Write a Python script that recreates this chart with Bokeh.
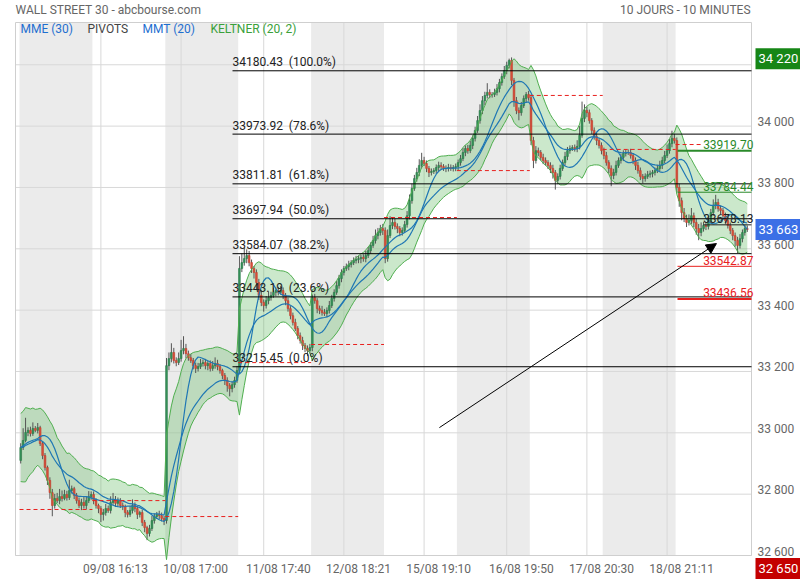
import numpy as np
from bokeh.plotting import figure
from bokeh.models import Range1d, Label, Arrow, NormalHead
from bokeh.embed import file_html
from bokeh.resources import INLINE

# ---------------- data (10-minute candles, 30 per session) ----------------
first_open = 32910
close_d0 = [32952, 32975, 33001, 33008, 32998, 33014, 33008, 33017, 32965, 32926, 32887, 32845, 32805, 32763, 32786,
            32779, 32792, 32786, 32799, 32789, 32812, 32818, 32796, 32779, 32763, 32773, 32763, 32779, 32792, 32799]
close_d1 = [32779, 32763, 32753, 32734, 32740, 32753, 32747, 32773, 32779, 32770, 32779, 32763, 32760, 32740, 32734,
            32747, 32763, 32753, 32734, 32740, 32708, 32691, 32672, 32688, 32714, 32727, 32734, 32730, 32721, 32714]
close_d2 = [33219, 33242, 33262, 33236, 33229, 33242, 33268, 33275, 33258, 33245, 33236, 33219, 33210, 33216, 33226,
            33229, 33219, 33226, 33210, 33219, 33226, 33216, 33203, 33187, 33171, 33154, 33144, 33157, 33171, 33203]
close_d3 = [33536, 33555, 33568, 33578, 33555, 33536, 33523, 33490, 33448, 33425, 33415, 33431, 33441, 33448, 33458,
            33464, 33458, 33464, 33448, 33431, 33405, 33382, 33360, 33340, 33317, 33301, 33285, 33275, 33268, 33278]
close_d4 = [33441, 33431, 33405, 33399, 33392, 33389, 33399, 33415, 33438, 33458, 33480, 33503, 33523, 33536, 33542,
            33549, 33555, 33562, 33565, 33568, 33572, 33568, 33578, 33594, 33611, 33627, 33643, 33653, 33666, 33660]
close_d5 = [33568, 33643, 33676, 33686, 33673, 33666, 33653, 33660, 33679, 33708, 33757, 33797, 33829, 33849, 33872,
            33888, 33878, 33862, 33849, 33852, 33855, 33865, 33872, 33868, 33862, 33862, 33865, 33862, 33865, 33868]
close_d6 = [33881, 33894, 33914, 33927, 33920, 33937, 33960, 33986, 34018, 34051, 34083, 34100, 34110, 34103, 34103,
            34110, 34122, 34142, 34162, 34181, 34198, 34214, 34149, 34083, 34051, 34044, 34067, 34090, 34103, 34093]
close_d7 = [33953, 33888, 33920, 33914, 33898, 33888, 33881, 33872, 33862, 33849, 33823, 33836, 33862, 33881, 33901,
            33920, 33927, 33930, 33927, 33934, 33970, 34025, 34051, 34044, 34018, 33986, 33966, 33953, 33937, 33920]
close_d8 = [33904, 33881, 33862, 33839, 33849, 33872, 33888, 33898, 33911, 33914, 33914, 33904, 33888, 33872, 33855,
            33836, 33829, 33836, 33842, 33845, 33849, 33855, 33862, 33872, 33888, 33904, 33920, 33943, 33960, 33953]
close_d9 = [33800, 33757, 33718, 33699, 33686, 33692, 33708, 33686, 33666, 33653, 33666, 33676, 33673, 33692, 33718,
            33741, 33751, 33731, 33725, 33708, 33692, 33676, 33660, 33643, 33627, 33611, 33633, 33653, 33666, 33663]

wick_up_d = [
    [14, 40, 48, 10, 12, 20, 8, 15, 6, 5, 8, 6, 10, 12, 15, 18, 25, 20, 15, 12, 35, 10, 6, 8, 10, 12, 20, 15, 18, 10],
    [10, 8, 6, 8, 12, 15, 10, 20, 25, 15, 10, 8, 10, 6, 8, 15, 20, 10, 8, 6, 10, 8, 6, 12, 15, 10, 8, 12, 10, 8],
    [25, 20, 30, 15, 10, 20, 35, 40, 15, 10, 12, 8, 10, 12, 15, 10, 12, 8, 10, 15, 20, 12, 8, 6, 8, 10, 8, 10, 12, 15],
    [40, 30, 35, 20, 15, 10, 8, 10, 12, 15, 10, 15, 20, 12, 15, 10, 12, 15, 10, 8, 10, 8, 10, 12, 8, 10, 12, 8, 10, 12],
    [10, 12, 8, 10, 15, 12, 10, 15, 12, 10, 15, 12, 10, 8, 10, 12, 8, 10, 12, 10, 8, 10, 15, 12, 10, 15, 20, 15, 12, 15],
    [10, 20, 30, 15, 12, 10, 8, 10, 12, 15, 20, 15, 12, 15, 20, 25, 12, 10, 8, 10, 8, 10, 12, 10, 8, 10, 12, 10, 8, 10],
    [10, 12, 15, 10, 12, 15, 10, 12, 15, 20, 15, 12, 30, 10, 8, 12, 15, 12, 10, 15, 12, 6, 10, 8, 12, 10, 12, 10, 8, 12],
    [10, 12, 15, 10, 8, 12, 10, 8, 10, 12, 8, 10, 12, 10, 15, 12, 10, 8, 10, 20, 30, 55, 20, 12, 10, 8, 10, 12, 8, 10],
    [10, 12, 8, 10, 12, 15, 10, 12, 10, 8, 10, 12, 8, 10, 12, 10, 8, 10, 12, 10, 8, 10, 12, 15, 12, 15, 20, 15, 25, 15],
    [10, 12, 10, 15, 12, 20, 25, 10, 12, 15, 20, 12, 10, 15, 12, 20, 25, 12, 10, 8, 10, 12, 10, 8, 10, 12, 15, 10, 12, 10],
]
wick_dn_d = [
    [10, 8, 6, 12, 10, 8, 6, 10, 8, 12, 10, 15, 20, 35, 10, 8, 12, 10, 6, 10, 8, 10, 12, 10, 8, 15, 10, 12, 8, 10],
    [12, 10, 15, 25, 20, 10, 8, 10, 8, 12, 10, 8, 12, 15, 10, 8, 10, 12, 15, 10, 12, 15, 22, 10, 8, 10, 8, 12, 10, 15],
    [10, 15, 12, 10, 12, 8, 10, 12, 15, 10, 8, 12, 15, 10, 8, 10, 12, 15, 10, 8, 10, 12, 10, 12, 15, 20, 25, 12, 10, 8],
    [10, 12, 10, 15, 12, 15, 20, 25, 15, 12, 20, 10, 12, 10, 8, 12, 10, 8, 12, 15, 10, 12, 10, 8, 12, 10, 15, 12, 18, 10],
    [12, 10, 15, 12, 10, 8, 12, 10, 8, 10, 8, 10, 12, 10, 8, 12, 10, 8, 10, 12, 15, 10, 12, 8, 10, 8, 10, 12, 10, 15],
    [15, 10, 8, 12, 10, 15, 12, 10, 8, 10, 12, 10, 8, 10, 12, 10, 8, 12, 15, 10, 8, 10, 12, 10, 8, 12, 10, 8, 10, 12],
    [12, 10, 8, 12, 10, 8, 12, 10, 8, 10, 12, 15, 10, 12, 10, 8, 10, 12, 10, 8, 12, 10, 15, 20, 12, 25, 10, 8, 12, 10],
    [15, 25, 10, 12, 10, 12, 10, 12, 15, 20, 30, 12, 10, 8, 10, 12, 10, 8, 10, 12, 10, 8, 12, 15, 10, 12, 10, 15, 10, 12],
    [12, 10, 15, 35, 12, 10, 8, 10, 12, 10, 8, 10, 12, 15, 10, 12, 15, 10, 8, 10, 12, 10, 8, 10, 12, 10, 8, 10, 12, 10],
    [15, 20, 25, 12, 15, 10, 12, 15, 20, 25, 12, 10, 12, 10, 8, 10, 12, 10, 12, 10, 12, 10, 12, 15, 20, 25, 10, 12, 10, 8],
]

bars_per_day = 30
time_labels = ["09/08 16:13", "10/08 17:00", "11/08 17:40", "12/08 18:21",
               "15/08 19:10", "16/08 19:50", "17/08 20:30", "18/08 21:11"]
grid_bar = [33, 66, 100, 133, 166, 200, 233, 266]
label_bar = [39, 72, 106, 139, 172, 206, 239, 272]

fib_levels = [34180.43, 33973.92, 33811.81, 33697.94, 33584.07, 33443.19, 33215.45]
fib_pct = ["100.0%", "78.6%", "61.8%", "50.0%", "38.2%", "23.6%", "0.0%"]

day_pivots = [32750, 32779, 32727, 33229, 33288, 33702, 33855, 34100, 33924, 33940]
pivot_levels = [33919.70, 33784.44, 33678.13, 33542.87, 33436.56]
pivot_colors = ["#2a8a2a", "#2a8a2a", "#222222", "#e8201e", "#e8201e"]

y_ticks = [32600, 32800, 33000, 33200, 33400, 33600, 33800, 34000, 34200]
last_price = 33663
period_high = 34220
period_low = 32650
trend_start = (172.3, 33017)
trend_end = (286.3, 33617)

# ---------------- derived ----------------
close = np.array(close_d0 + close_d1 + close_d2 + close_d3 + close_d4 + close_d5 + close_d6 + close_d7 + close_d8 + close_d9, float)
wick_up = np.array(sum(wick_up_d, []), float)
wick_dn = np.array(sum(wick_dn_d, []), float)
n = len(close)
idx = np.arange(n)
open_ = np.concatenate([[first_open], close[:-1]])
high = np.maximum(open_, close) + wick_up
low = np.minimum(open_, close) - wick_dn


def ema(x, k):
    a = 2.0 / (k + 1)
    out = np.empty_like(x)
    out[0] = x[0]
    for i in range(1, len(x)):
        out[i] = a * x[i] + (1 - a) * out[i - 1]
    return out


def sma(x, k):
    return np.array([x[max(0, i - k + 1):i + 1].mean() for i in range(len(x))])


# periods rescaled from the source bar density (about 43 bars per session) to 30 bars per session
scale = bars_per_day / 43.0
p_mme = int(round(30 * scale))
p_mmt = int(round(20 * scale))
p_kel = int(round(20 * scale))

mme = ema(close, p_mme)
half = max(1, p_mmt // 2)
mmt = sma(sma(close, half), p_mmt - half + 1)
prev_c = np.concatenate([[open_[0]], close[:-1]])
tr = np.maximum.reduce([high - low, np.abs(high - prev_c), np.abs(low - prev_c)])
mid = ema(close, p_kel)
a_k = 2.0 / (p_kel + 1)
atr = np.empty_like(tr)
atr[0] = tr[:p_kel].mean()
for i in range(1, n):
    atr[i] = a_k * tr[i] + (1 - a_k) * atr[i - 1]
k_up = mid + 2 * atr
k_dn = mid - 2 * atr

# ---------------- figure ----------------
PX_PER_BAR = 2.43
PX_PER_PT = 0.3067


def xpx(px):
    return (px - 19) / PX_PER_BAR - 0.5


def ypx(py):
    return 32600 + (555 - py) / PX_PER_PT


X0, X1 = xpx(0), xpx(800)
Y0, Y1 = ypx(580), ypx(0)
PX_L, PX_R = xpx(15), xpx(751)     # plotting area
PY_T, PY_B = ypx(22), ypx(555)

FONT = "Roboto"
p = figure(width=800, height=580, x_range=Range1d(X0, X1), y_range=Range1d(Y0, Y1),
           output_backend="svg", toolbar_location=None, x_axis_location=None, y_axis_location=None,
           min_border_left=0, min_border_top=0, min_border_right=0, min_border_bottom=0)
p.outline_line_color = None
p.background_fill_color = "white"
p.xgrid.visible = False
p.ygrid.visible = False

# day shading
d_left = [d * bars_per_day - 0.5 for d in range(0, 10, 2)]
d_right = [d * bars_per_day + bars_per_day - 0.5 for d in range(0, 10, 2)]
p.quad(left=d_left, right=d_right, bottom=PY_B, top=PY_T, fill_color="#ebebeb", line_color=None, level="image")

# grid lines
p.segment(x0=grid_bar, y0=[PY_B] * len(grid_bar), x1=grid_bar, y1=[PY_T] * len(grid_bar),
          line_color="#d8d8d8", line_width=1, level="underlay")
p.segment(x0=[PX_L] * len(y_ticks), y0=y_ticks, x1=[PX_R] * len(y_ticks), y1=y_ticks,
          line_color="#d8d8d8", line_width=1, level="underlay")
# plot area border
p.quad(left=PX_L, right=PX_R, bottom=PY_B, top=PY_T, fill_color=None, line_color="#cfcfcf",
       line_width=1, level="underlay")

# Keltner channel
p.varea(x=idx, y1=k_dn, y2=k_up, fill_color="#5cb85c", fill_alpha=0.32)

# candles
up = close >= open_
p.segment(x0=idx, y0=low, x1=idx, y1=high, line_color="#555555", line_width=1)
p.vbar(x=idx[up], width=0.72, top=close[up], bottom=open_[up], fill_color="#35925a", line_color="#2a7a48", line_width=0.6)
p.vbar(x=idx[~up], width=0.72, top=open_[~up], bottom=close[~up], fill_color="#d9503c", line_color="#c2402e", line_width=0.6)

p.line(idx, k_up, line_color="#4fae4f", line_width=1)
p.line(idx, k_dn, line_color="#4fae4f", line_width=1)
p.line(idx, mme, line_color="#1f77b4", line_width=1.2)
p.line(idx, mmt, line_color="#1f77b4", line_width=1.2)

# day pivots (dashed)
pv_x0 = [d * bars_per_day - 0.5 for d in range(10)]
pv_x1 = [d * bars_per_day + bars_per_day - 0.5 for d in range(9)] + [xpx(703)]
p.segment(x0=pv_x0, y0=day_pivots, x1=pv_x1, y1=day_pivots, line_color="#e8201e", line_dash="4 3", line_width=1)

# Fibonacci retracements
fx = xpx(232)
p.segment(x0=[fx] * len(fib_levels), y0=fib_levels, x1=[PX_R] * len(fib_levels), y1=fib_levels,
          line_color="black", line_width=1)
for lv, pc in zip(fib_levels, fib_pct):
    p.add_layout(Label(x=fx, y=lv + 1.5 / PX_PER_PT, text=f"{lv:.2f}\u00a0 ({pc})", text_font=FONT,
                       text_font_size="12px", text_color="#222222", text_baseline="bottom", text_align="left"))

# current pivots at right
pw = [2, 1, 1, 1, 2]
px_start = [xpx(677), xpx(677), xpx(703), xpx(677), xpx(677)]
p.segment(x0=px_start, y0=pivot_levels, x1=[PX_R] * 5, y1=pivot_levels, line_color=pivot_colors, line_width=pw)
for lv, c in zip(pivot_levels, pivot_colors):
    p.add_layout(Label(x=xpx(753), y=lv + 1.5 / PX_PER_PT, text=f"{lv:.2f}", text_font=FONT,
                       text_font_size="12px", text_color=c, text_baseline="bottom", text_align="right"))

# trend arrow
p.add_layout(Arrow(end=NormalHead(size=10, fill_color="black", line_color="black"),
                   x_start=trend_start[0], y_start=trend_start[1], x_end=trend_end[0], y_end=trend_end[1],
                   line_color="black", line_width=1))


def fmt(v):
    return f"{v:,}".replace(",", " ")


# price axis (right) and time axis (bottom) labels
for v in y_ticks:
    if min(abs(v - b) for b in (period_high, last_price)) * PX_PER_PT < 14:
        continue  # hidden under a price box
    p.add_layout(Label(x=xpx(757), y=v + 4 / PX_PER_PT, text=fmt(v), text_font=FONT, text_font_size="12px",
                       text_color="#666666", text_baseline="middle", text_align="left"))
for b, t in zip(label_bar, time_labels):
    p.add_layout(Label(x=b, y=ypx(568), text=t, text_font=FONT, text_font_size="12px",
                       text_color="#666666", text_baseline="middle", text_align="center"))


# price boxes on the axis
def box(yv, txt, col):
    p.add_layout(Label(x=xpx(755), y=yv, text=txt, text_font=FONT, text_font_size="13px",
                       text_color="white", background_fill_color=col, text_align="left",
                       text_baseline="middle", padding=3))


box(period_high, fmt(period_high), "#168616")
box(last_price, fmt(last_price), "#3b6fe6")
box(ypx(568), fmt(period_low), "#c40000")

# header texts
p.add_layout(Label(x=xpx(15), y=ypx(9), text="WALL STREET 30 - abcbourse.com", text_font=FONT,
                   text_font_size="12px", text_color="#666666", text_baseline="middle"))
p.add_layout(Label(x=xpx(750), y=ypx(9), text="10 JOURS - 10 MINUTES", text_font=FONT,
                   text_font_size="12px", text_color="#666666", text_baseline="middle", text_align="right"))
legend_items = [("MME (30)", "#1f6fd0", 20), ("PIVOTS", "#444444", 87), ("MMT (20)", "#1f6fd0", 142),
                ("KELTNER (20, 2)", "#3aa03a", 210)]
for t, c, x in legend_items:
    p.add_layout(Label(x=xpx(x), y=ypx(28), text=t, text_font=FONT, text_font_size="12px",
                       text_color=c, text_baseline="middle"))

open("out.html", "w").write(file_html(p, INLINE))
